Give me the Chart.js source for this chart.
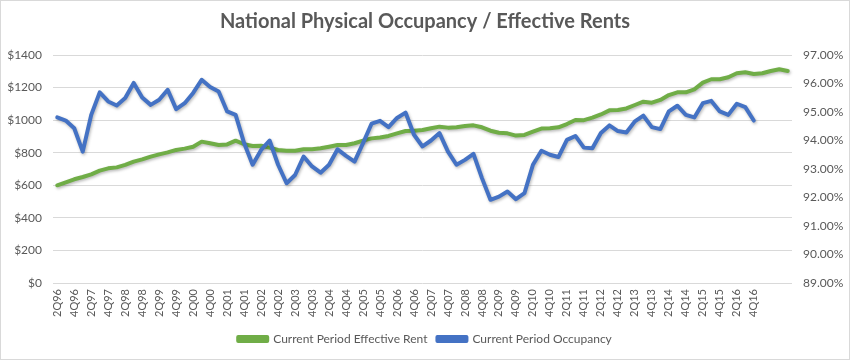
<!DOCTYPE html>
<html>
<head>
<meta charset="utf-8">
<script src="https://cdn.jsdelivr.net/npm/chart.js@4.4.1/dist/chart.umd.min.js"></script>
<style>
  html, body { margin: 0; padding: 0; background: #ffffff; }
  #wrap { width: 850px; height: 360px; }
</style>
</head>
<body>
<div id="wrap"><canvas id="c" width="850" height="360"></canvas></div>
<script>
// ---- data ----
const categories = [
  '2Q96','3Q96','4Q96','1Q97','2Q97','3Q97','4Q97','1Q98','2Q98','3Q98','4Q98','1Q99','2Q99','3Q99','4Q99',
  '1Q00','2Q00','3Q00','4Q00','1Q01','2Q01','3Q01','4Q01','1Q02','2Q02','3Q02','4Q02','1Q03','2Q03','3Q03','4Q03',
  '1Q04','2Q04','3Q04','4Q04','1Q05','2Q05','3Q05','4Q05','1Q06','2Q06','3Q06','4Q06','1Q07','2Q07','3Q07','4Q07',
  '1Q08','2Q08','3Q08','4Q08','1Q09','2Q09','3Q09','4Q09','1Q10','2Q10','3Q10','4Q10','1Q11','2Q11','3Q11','4Q11',
  '1Q12','2Q12','3Q12','4Q12','1Q13','2Q13','3Q13','4Q13','1Q14','2Q14','3Q14','4Q14','1Q15','2Q15','3Q15','4Q15',
  '1Q16','2Q16','3Q16','4Q16','','','',''
];
const shownTickLabels = [
  '2Q96','4Q96','2Q97','4Q97','2Q98','4Q98','2Q99','4Q99','2Q00','4Q00','2Q01','4Q01','2Q02','4Q02',
  '2Q03','4Q03','2Q04','4Q04','2Q05','4Q05','2Q06','4Q06','2Q07','4Q07','2Q08','4Q08','2Q09','4Q09',
  '2Q10','4Q10','2Q11','4Q11','2Q12','4Q12','2Q13','4Q13','2Q14','4Q14','2Q15','4Q15','2Q16','4Q16'
];
const effectiveRent = [
  600,618,637,651,667,690,704,710,725,745,759,776,790,802,817,825,837,868,858,847,
  851,874,852,841,843,831,817,812,812,821,821,827,837,847,847,858,874,888,894,903,
  919,933,935,939,950,960,954,957,964,968,956,935,923,919,905,909,929,948,950,956,
  976,1001,1000,1015,1035,1060,1062,1072,1093,1113,1107,1124,1154,1171,1171,1189,1230,1251,1251,1263,
  1288,1294,1283,1288,1302,1312,1302
];
const occupancy = [
  94.81,94.70,94.43,93.61,94.90,95.69,95.37,95.23,95.49,96.02,95.51,95.25,95.43,95.78,95.10,95.31,
  95.67,96.13,95.88,95.72,95.02,94.90,93.91,93.15,93.67,94.00,93.15,92.50,92.79,93.44,93.09,92.87,
  93.15,93.69,93.46,93.26,93.91,94.59,94.69,94.47,94.79,94.98,94.20,93.79,94.00,94.26,93.61,93.15,
  93.32,93.53,92.68,91.92,92.03,92.21,91.94,92.15,93.15,93.64,93.50,93.42,94.02,94.16,93.75,93.73,
  94.26,94.53,94.33,94.28,94.67,94.87,94.47,94.40,95.02,95.22,94.90,94.81,95.31,95.39,95.02,94.90,
  95.29,95.17,94.70
];
const rentTicks = { min: 0, max: 1400, step: 200 };
const occTicks = { min: 89, max: 97, step: 1 };

const GREEN = '#70AD47';
const BLUE = '#4472C4';
const TEXT = '#595959';
const GRID = '#D9D9D9';
const FONT = 'Lato, "Open Sans", sans-serif';

const shadowPlugin = {
  id: 'lineShadow',
  beforeDatasetDraw(chart) {
    const ctx = chart.ctx;
    ctx.save();
    ctx.shadowColor = 'rgba(0,0,0,0.28)';
    ctx.shadowBlur = 3;
    ctx.shadowOffsetX = 1;
    ctx.shadowOffsetY = 1.5;
  },
  afterDatasetDraw(chart) { chart.ctx.restore(); }
};
const borderPlugin = {
  id: 'outerBorder',
  afterDraw(chart) {
    const ctx = chart.ctx;
    ctx.save();
    ctx.strokeStyle = GRID;
    ctx.lineWidth = 1;
    ctx.strokeRect(0.5, 0.5, chart.width - 1, chart.height - 1);
    ctx.restore();
  }
};

new Chart(document.getElementById('c'), {
  type: 'line',
  data: {
    labels: categories,
    datasets: [
      {
        label: 'Current Period Effective Rent',
        data: effectiveRent,
        yAxisID: 'y',
        borderColor: GREEN,
        backgroundColor: GREEN,
        borderWidth: 4,
        pointRadius: 0,
        tension: 0,
        borderJoinStyle: 'round',
        borderCapStyle: 'round',
        order: 1
      },
      {
        label: 'Current Period Occupancy',
        data: occupancy,
        yAxisID: 'y1',
        borderColor: BLUE,
        backgroundColor: BLUE,
        borderWidth: 4,
        pointRadius: 0,
        tension: 0,
        borderJoinStyle: 'round',
        borderCapStyle: 'round',
        order: 0
      }
    ]
  },
  options: {
    responsive: false,
    animation: false,
    layout: { padding: { left: 0, right: 0, top: 0, bottom: 5 } },
    plugins: {
      title: {
        display: true,
        text: 'National Physical Occupancy / Effective Rents',
        color: TEXT,
        font: { family: FONT, size: 20, weight: 'bold', lineHeight: 1.2 },
        padding: { top: 10, bottom: 21 }
      },
      legend: {
        position: 'bottom',
        labels: {
          color: TEXT,
          font: { family: FONT, size: 12 },
          boxWidth: 29,
          boxHeight: 4,
          padding: 10,
          sort: (a, b) => a.datasetIndex - b.datasetIndex
        }
      },
      tooltip: { enabled: false }
    },
    scales: {
      x: {
        type: 'category',
        offset: true,
        grid: { display: false, drawTicks: false },
        border: { display: false },
        ticks: {
          autoSkip: false,
          minRotation: 90,
          maxRotation: 90,
          padding: 6,
          color: TEXT,
          font: { family: FONT, size: 11 },
          callback: function (value, index) {
            const lab = categories[index];
            return shownTickLabels.includes(lab) ? lab : '';
          }
        },
        afterFit(scale) { scale.height = 40; }
      },
      y: {
        position: 'left',
        min: rentTicks.min,
        max: rentTicks.max,
        grid: { color: GRID, lineWidth: 1, drawTicks: false },
        border: { display: false },
        ticks: {
          stepSize: rentTicks.step,
          padding: 11,
          color: TEXT,
          font: { family: FONT, size: 12 },
          callback: v => '$' + v
        },
        afterFit(scale) { scale.width = 53; }
      },
      y1: {
        position: 'right',
        min: occTicks.min,
        max: occTicks.max,
        grid: { display: false, drawTicks: false },
        border: { display: false },
        ticks: {
          stepSize: occTicks.step,
          padding: 11,
          color: TEXT,
          font: { family: FONT, size: 12 },
          callback: v => v.toFixed(2) + '%'
        },
        afterFit(scale) { scale.width = 58; }
      }
    }
  },
  plugins: [shadowPlugin, borderPlugin]
});
</script>
</body>
</html>
